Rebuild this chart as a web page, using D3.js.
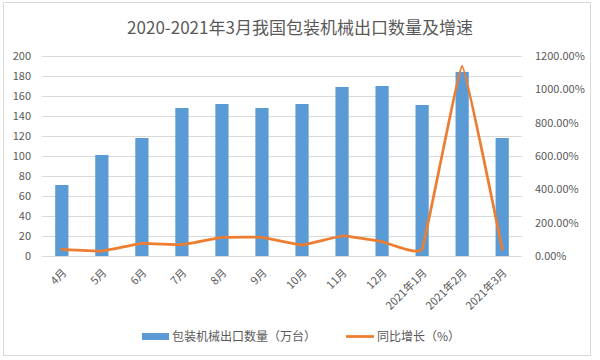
<!DOCTYPE html>
<html>
<head>
<meta charset="utf-8">
<script src="https://cdn.jsdelivr.net/npm/d3@7"></script>
<style>
  body { margin: 0; background: #fff; }
  text { font-family: "Noto Sans CJK SC", "Noto Sans", sans-serif; fill: #595959; }
</style>
</head>
<body>
<div id="chart"></div>
<script>
// Chart data
var months = ["4月", "5月", "6月", "7月", "8月", "9月", "10月", "11月", "12月", "2021年1月", "2021年2月", "2021年3月"];
var exports = [71, 101, 118, 148, 152, 148, 152, 169, 170, 151, 184, 118];
var growth = [40, 30, 76, 68, 112, 112, 66, 120, 86, 42, 1140, 40];
var leftTicks = [0, 20, 40, 60, 80, 100, 120, 140, 160, 180, 200];
var rightTicks = [0, 200, 400, 600, 800, 1000, 1200];

var width = 600, height = 360;
var margin = { left: 42, right: 78, top: 56, bottom: 104 };

var svg = d3.select("#chart").append("svg")
    .attr("width", width)
    .attr("height", height);

// chart frame
svg.append("rect")
    .attr("x", 3.5).attr("y", 2.5)
    .attr("width", 587).attr("height", 353)
    .attr("fill", "#fff")
    .attr("stroke", "#d9d9d9");

var x = d3.scaleBand()
    .domain(months)
    .range([margin.left, width - margin.right])
    .paddingInner(0.67)
    .paddingOuter(0.33);

var y = d3.scaleLinear().domain([0, 200]).range([height - margin.bottom, margin.top]);
var y2 = d3.scaleLinear().domain([0, 1200]).range([height - margin.bottom, margin.top]);

// gridlines
svg.append("g").selectAll("line")
    .data(leftTicks)
    .enter().append("line")
    .attr("x1", margin.left).attr("x2", width - margin.right)
    .attr("y1", function(d) { return Math.round(y(d)) + 0.5; })
    .attr("y2", function(d) { return Math.round(y(d)) + 0.5; })
    .attr("stroke", "#d9d9d9");

// left axis
var leftAxis = svg.append("g")
    .attr("transform", "translate(" + (margin.left - 8) + ",0)")
    .call(d3.axisLeft(y).tickValues(leftTicks).tickSize(0).tickPadding(3));
leftAxis.select(".domain").remove();
leftAxis.selectAll("text").attr("font-size", 11).style("fill", "#595959");

// right axis
var rightAxis = svg.append("g")
    .attr("transform", "translate(" + (width - margin.right + 10) + ",0)")
    .call(d3.axisRight(y2).tickValues(rightTicks).tickSize(0).tickPadding(3)
      .tickFormat(function(d) { return d.toFixed(2) + "%"; }));
rightAxis.select(".domain").remove();
rightAxis.selectAll("text").attr("font-size", 11).style("fill", "#595959");

// bars
svg.append("g").selectAll("rect")
    .data(exports)
    .enter().append("rect")
    .attr("x", function(d, i) { return x(months[i]); })
    .attr("y", function(d) { return y(d); })
    .attr("width", x.bandwidth())
    .attr("height", function(d) { return y(0) - y(d); })
    .attr("fill", "#5b9bd5");

// growth line, lightly smoothed
var line = d3.line()
    .x(function(d, i) { return x(months[i]) + x.bandwidth() / 2; })
    .y(function(d) { return y2(d); })
    .curve(d3.curveCardinal.tension(0.75));

svg.append("path")
    .datum(growth)
    .attr("d", line)
    .attr("fill", "none")
    .attr("stroke", "#ed7d31")
    .attr("stroke-width", 2.75)
    .attr("stroke-linejoin", "round")
    .attr("stroke-linecap", "round");

// x labels, rotated
svg.append("g").selectAll("text")
    .data(months)
    .enter().append("text")
    .attr("transform", function(d) {
      return "translate(" + (x(d) + x.bandwidth() / 2) + "," + (y(0) + 12) + ") rotate(-45)";
    })
    .attr("text-anchor", "end")
    .attr("dy", "0.7em")
    .attr("font-size", 11)
    .text(function(d) { return d; });

// title
svg.append("text")
    .attr("x", 300).attr("y", 34)
    .attr("text-anchor", "middle")
    .attr("font-size", 17)
    .text("2020-2021年3月我国包装机械出口数量及增速");

// legend
var legend = svg.append("g");
legend.append("rect")
    .attr("x", 142).attr("y", 333).attr("width", 27).attr("height", 7)
    .attr("fill", "#5b9bd5");
legend.append("text")
    .attr("x", 172).attr("y", 341)
    .attr("font-size", 12)
    .text("包装机械出口数量（万台）");
legend.append("line")
    .attr("x1", 346).attr("x2", 374).attr("y1", 336.5).attr("y2", 336.5)
    .attr("stroke", "#ed7d31").attr("stroke-width", 2.75);
legend.append("text")
    .attr("x", 377).attr("y", 341)
    .attr("font-size", 12)
    .text("同比增长（%）");
</script>
</body>
</html>
